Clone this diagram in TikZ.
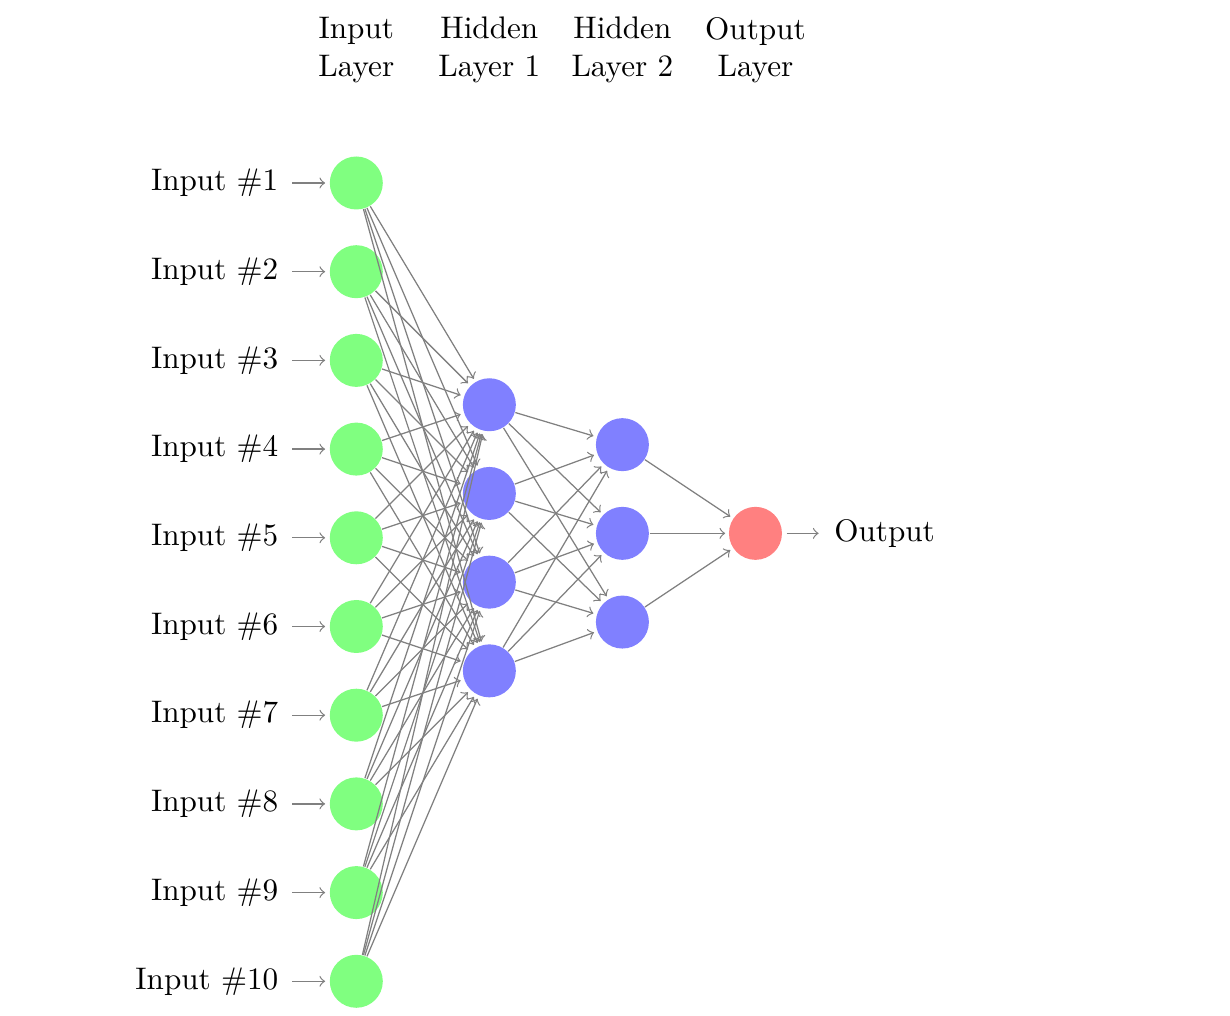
\documentclass[tikz,border=0pt]{standalone}
\usepackage{tikz}

\newlength{\du}
\setlength{\du}{1cm}

\definecolor{inputcolor}{rgb}{0.500000, 1.000000, 0.500000}
\definecolor{hiddencolor}{rgb}{0.500000, 0.500000, 1.000000}
\definecolor{outputcolor}{rgb}{1.000000, 0.500000, 0.500000}
\definecolor{linkcolor}{rgb}{0.500000, 0.500000, 0.500000}

\tikzset{
  neuron/.style={circle, minimum size=17pt, inner sep=0pt},
  inputneuron/.style={neuron, fill=inputcolor},
  hiddenneuron/.style={neuron, fill=hiddencolor},
  outputneuron/.style={neuron, fill=outputcolor},
  synapse/.style={draw=linkcolor, ->, shorten >=1pt},
  inlink/.style={draw=linkcolor, ->, shorten <=1pt, shorten >=1.3pt},
  outlink/.style={draw=linkcolor, ->, shorten <=1.3pt, shorten >=1.5pt},
  layerlabel/.style={align=center}
}

\begin{document}
\begin{tikzpicture}
\pgftransformxscale{1.000000}
\pgftransformyscale{-1.000000}
\useasboundingbox (-4.017000\du,-1.063000\du) rectangle (9.850000\du,10.391000\du);
% input layer
\node[inputneuron] (I1) at (0.000000\du,1.000000\du){};
\node[inputneuron] (I2) at (0.000000\du,2.000000\du){};
\node[inputneuron] (I3) at (0.000000\du,3.000000\du){};
\node[inputneuron] (I4) at (0.000000\du,4.000000\du){};
\node[inputneuron] (I5) at (0.000000\du,5.000000\du){};
\node[inputneuron] (I6) at (0.000000\du,6.000000\du){};
\node[inputneuron] (I7) at (0.000000\du,7.000000\du){};
\node[inputneuron] (I8) at (0.000000\du,8.000000\du){};
\node[inputneuron] (I9) at (0.000000\du,9.000000\du){};
\node[inputneuron] (I10) at (0.000000\du,10.000000\du){};
% input texts
\node[anchor=east] (T1) at (-0.755000\du,1.000000\du){Input \#1};
\node[anchor=east] (T2) at (-0.755000\du,2.000000\du){Input \#2};
\node[anchor=east] (T3) at (-0.755000\du,3.000000\du){Input \#3};
\node[anchor=east] (T4) at (-0.755000\du,4.000000\du){Input \#4};
\node[anchor=east] (T5) at (-0.755000\du,5.000000\du){Input \#5};
\node[anchor=east] (T6) at (-0.755000\du,6.000000\du){Input \#6};
\node[anchor=east] (T7) at (-0.755000\du,7.000000\du){Input \#7};
\node[anchor=east] (T8) at (-0.755000\du,8.000000\du){Input \#8};
\node[anchor=east] (T9) at (-0.755000\du,9.000000\du){Input \#9};
\node[anchor=east] (T10) at (-0.755000\du,10.000000\du){Input \#10};
% hidden layer 1
\node[hiddenneuron] (Ha1) at (1.500000\du,3.500000\du){};
\node[hiddenneuron] (Ha2) at (1.500000\du,4.500000\du){};
\node[hiddenneuron] (Ha3) at (1.500000\du,5.500000\du){};
\node[hiddenneuron] (Ha4) at (1.500000\du,6.500000\du){};
% hidden layer 2
\node[hiddenneuron] (Hb1) at (3.000000\du,3.950000\du){};
\node[hiddenneuron] (Hb2) at (3.000000\du,4.950000\du){};
\node[hiddenneuron] (Hb3) at (3.000000\du,5.950000\du){};
% output layer
\node[outputneuron] (O) at (4.500000\du,4.950000\du){};
\node[anchor=west] (TO) at (5.265000\du,4.950000\du){Output};
% layer texts
\node[layerlabel] (LI) at (0.000000\du,-0.500000\du){Input\\Layer};
\node[layerlabel] (LHa) at (1.500000\du,-0.500000\du){Hidden\\Layer 1};
\node[layerlabel] (LHb) at (3.000000\du,-0.500000\du){Hidden\\Layer 2};
\node[layerlabel] (LO) at (4.500000\du,-0.500000\du){Output\\Layer};
% input arrows
\draw[inlink] (T1) -- (I1);
\draw[inlink] (T2) -- (I2);
\draw[inlink] (T3) -- (I3);
\draw[inlink] (T4) -- (I4);
\draw[inlink] (T5) -- (I5);
\draw[inlink] (T6) -- (I6);
\draw[inlink] (T7) -- (I7);
\draw[inlink] (T8) -- (I8);
\draw[inlink] (T9) -- (I9);
\draw[inlink] (T10) -- (I10);
% input to hidden 1
\draw[synapse] (I1) -- (Ha1); \draw[synapse] (I1) -- (Ha2); \draw[synapse] (I1) -- (Ha3); \draw[synapse] (I1) -- (Ha4);
\draw[synapse] (I2) -- (Ha1); \draw[synapse] (I2) -- (Ha2); \draw[synapse] (I2) -- (Ha3); \draw[synapse] (I2) -- (Ha4);
\draw[synapse] (I3) -- (Ha1); \draw[synapse] (I3) -- (Ha2); \draw[synapse] (I3) -- (Ha3); \draw[synapse] (I3) -- (Ha4);
\draw[synapse] (I4) -- (Ha1); \draw[synapse] (I4) -- (Ha2); \draw[synapse] (I4) -- (Ha3); \draw[synapse] (I4) -- (Ha4);
\draw[synapse] (I5) -- (Ha1); \draw[synapse] (I5) -- (Ha2); \draw[synapse] (I5) -- (Ha3); \draw[synapse] (I5) -- (Ha4);
\draw[synapse] (I6) -- (Ha1); \draw[synapse] (I6) -- (Ha2); \draw[synapse] (I6) -- (Ha3); \draw[synapse] (I6) -- (Ha4);
\draw[synapse] (I7) -- (Ha1); \draw[synapse] (I7) -- (Ha2); \draw[synapse] (I7) -- (Ha3); \draw[synapse] (I7) -- (Ha4);
\draw[synapse] (I8) -- (Ha1); \draw[synapse] (I8) -- (Ha2); \draw[synapse] (I8) -- (Ha3); \draw[synapse] (I8) -- (Ha4);
\draw[synapse] (I9) -- (Ha1); \draw[synapse] (I9) -- (Ha2); \draw[synapse] (I9) -- (Ha3); \draw[synapse] (I9) -- (Ha4);
\draw[synapse] (I10) -- (Ha1); \draw[synapse] (I10) -- (Ha2); \draw[synapse] (I10) -- (Ha3); \draw[synapse] (I10) -- (Ha4);
% hidden 1 to hidden 2
\draw[synapse] (Ha1) -- (Hb1); \draw[synapse] (Ha1) -- (Hb2); \draw[synapse] (Ha1) -- (Hb3);
\draw[synapse] (Ha2) -- (Hb1); \draw[synapse] (Ha2) -- (Hb2); \draw[synapse] (Ha2) -- (Hb3);
\draw[synapse] (Ha3) -- (Hb1); \draw[synapse] (Ha3) -- (Hb2); \draw[synapse] (Ha3) -- (Hb3);
\draw[synapse] (Ha4) -- (Hb1); \draw[synapse] (Ha4) -- (Hb2); \draw[synapse] (Ha4) -- (Hb3);
% hidden 2 to output
\draw[synapse] (Hb1) -- (O);
\draw[synapse] (Hb2) -- (O);
\draw[synapse] (Hb3) -- (O);
\draw[outlink] (O) -- (TO);
\end{tikzpicture}
\end{document}
